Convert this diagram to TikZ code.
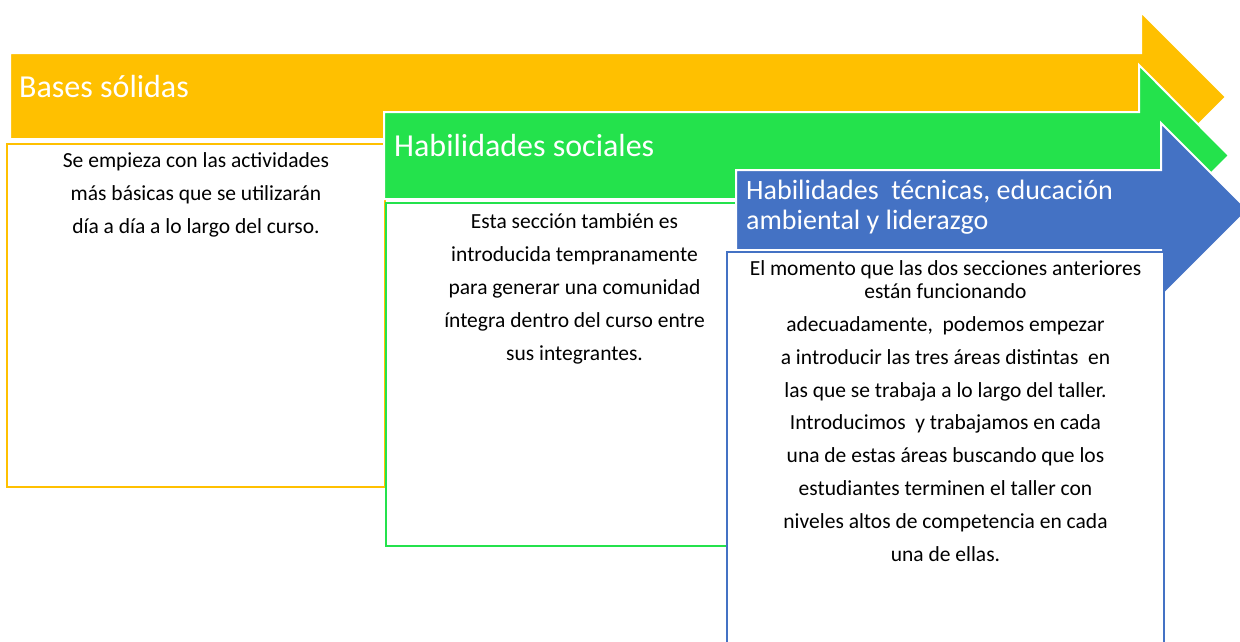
\documentclass[tikz,border=0pt]{standalone}
\usepackage{fontspec}
\setmainfont{Carlito}
\definecolor{cOrange}{RGB}{255,192,0}
\definecolor{cGreen}{RGB}{36,226,76}
\definecolor{cBlue}{RGB}{68,114,196}
\tikzset{
  arrowshape/.style={draw=white, line width=2pt, line join=miter},
  textbox/.style={fill=white, line width=2.2pt},
  titletext/.style={text=white, inner sep=0pt, anchor=base west, font=\fontsize{32}{31}\selectfont, align=left},
  bodytext/.style={text=black, inner sep=0pt, anchor=base, font=\fontsize{21.5}{32.8}\selectfont, align=center}
}
\begin{document}
\begin{tikzpicture}[x=1pt,y=-1pt]
\useasboundingbox (0,0) rectangle (1240,641);
\clip (0,0) rectangle (1240,641);
% orange
\path[arrowshape, fill=cOrange] (10,53) -- (1141,53) -- (1141,12) -- (1226,97) -- (1141,182) -- (1141,139) -- (10,139) -- cycle;
\node[titletext] (t1) at (19,97) {Bases sólidas};
\path[textbox, draw=cOrange] (7,144) rectangle (385,487);
\node[bodytext] (b1) at (196,233) {Se empieza con las actividades\\más básicas que se utilizarán\\día a día a lo largo del curso.};
% green
\path[arrowshape, fill=cGreen] (384,112) -- (1139,112) -- (1139,65) -- (1229,155.5) -- (1139,246) -- (1139,199) -- (384,199) -- cycle;
\node[titletext] (t2) at (394,156) {Habilidades sociales};
\path[textbox, draw=cGreen] (386,203) rectangle (763,546);
\node[bodytext] (b2) at (574.5,360) {Esta sección también es\\introducida tempranamente\\para generar una comunidad\\íntegra dentro del curso entre\\sus integrantes.};
% blue
\path[arrowshape, fill=cBlue] (736,170) -- (1161,170) -- (1161,123) -- (1248,210) -- (1161,297) -- (1161,250) -- (736,250) -- cycle;
\node[titletext, font=\fontsize{28}{30}\selectfont] (t3) at (746,229) {Habilidades\ \ técnicas, educación\\ambiental y liderazgo};
\path[textbox, draw=cBlue] (727,252) rectangle (1164,670);
\node[bodytext] (b3) at (945.5,561) {El momento que las dos secciones anteriores\\[-9.8pt]están funcionando\\adecuadamente,\ \ podemos empezar\\a introducir las tres áreas distintas\ \ en\\las que se trabaja a lo largo del taller.\\Introducimos\ \ y trabajamos en cada\\una de estas áreas buscando que los\\estudiantes terminen el taller con\\niveles altos de competencia en cada\\una de ellas.};
\end{tikzpicture}
\end{document}
